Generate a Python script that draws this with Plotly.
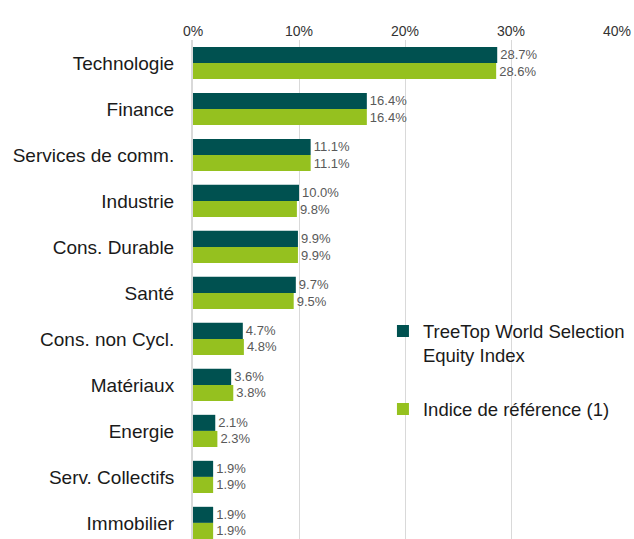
import plotly.graph_objects as go

categories = ["Technologie", "Finance", "Services de comm.", "Industrie", "Cons. Durable",
              "Santé", "Cons. non Cycl.", "Matériaux", "Energie", "Serv. Collectifs", "Immobilier"]
fund_values = [28.7, 16.4, 11.1, 10.0, 9.9, 9.7, 4.7, 3.6, 2.1, 1.9, 1.9]
bench_values = [28.6, 16.4, 11.1, 9.8, 9.9, 9.5, 4.8, 3.8, 2.3, 1.9, 1.9]
fund_name = "TreeTop World Selection<br>Equity Index"
bench_name = "Indice de référence (1)"
tick_vals = [0, 10, 20, 30, 40]
tick_text = ["0%", "10%", "20%", "30%", "40%"]

fig = go.Figure()
fig.add_trace(go.Bar(
    y=categories, x=fund_values, orientation="h", name=fund_name,
    marker=dict(color="#005150", line=dict(width=0)),
    texttemplate="%{x:.1f}%", textposition="outside", cliponaxis=False,
    textfont=dict(family="Liberation Sans", size=13, color="#595959"),
    legendgroup="a",
))
fig.add_trace(go.Bar(
    y=categories, x=bench_values, orientation="h", name=bench_name,
    marker=dict(color="#95C11F", line=dict(width=0)),
    texttemplate="%{x:.1f}%", textposition="outside", cliponaxis=False,
    textfont=dict(family="Liberation Sans", size=13, color="#595959"),
    legendgroup="b",
))

fig.update_layout(
    width=634, height=539,
    margin=dict(l=193, r=17, t=40, b=0),
    paper_bgcolor="white", plot_bgcolor="white",
    barmode="group", bargap=0.3, bargroupgap=0,
    font=dict(family="Liberation Sans", color="#1a1a1a"),
    showlegend=True,
    legend=dict(
        x=0.448, y=0.454, xanchor="left", yanchor="top",
        font=dict(size=18.5, color="#1a1a1a"),
        tracegroupgap=27, valign="top", bgcolor="rgba(0,0,0,0)",
        itemwidth=30,
    ),
    xaxis=dict(
        side="top", range=[0, 40], tickvals=tick_vals, ticktext=tick_text,
        showgrid=True, gridcolor="#d9d9d9", gridwidth=1,
        zeroline=False, showline=False, automargin=False,
        tickfont=dict(size=14, color="#333333"),
        ticks="", fixedrange=True,
    ),
    yaxis=dict(
        type="category", range=[10.35, -0.5], automargin=False,
        showline=True, linecolor="#d9d9d9", linewidth=2,
        ticks="", ticklabelstandoff=13,
        tickfont=dict(size=19, color="#1a1a1a"),
        showgrid=False, fixedrange=True,
    ),
)

fig.write_html(
    "out.html",
    config={"displayModeBar": False},
    post_script="document.body.style.margin='0';document.body.style.overflow='hidden';",
)
